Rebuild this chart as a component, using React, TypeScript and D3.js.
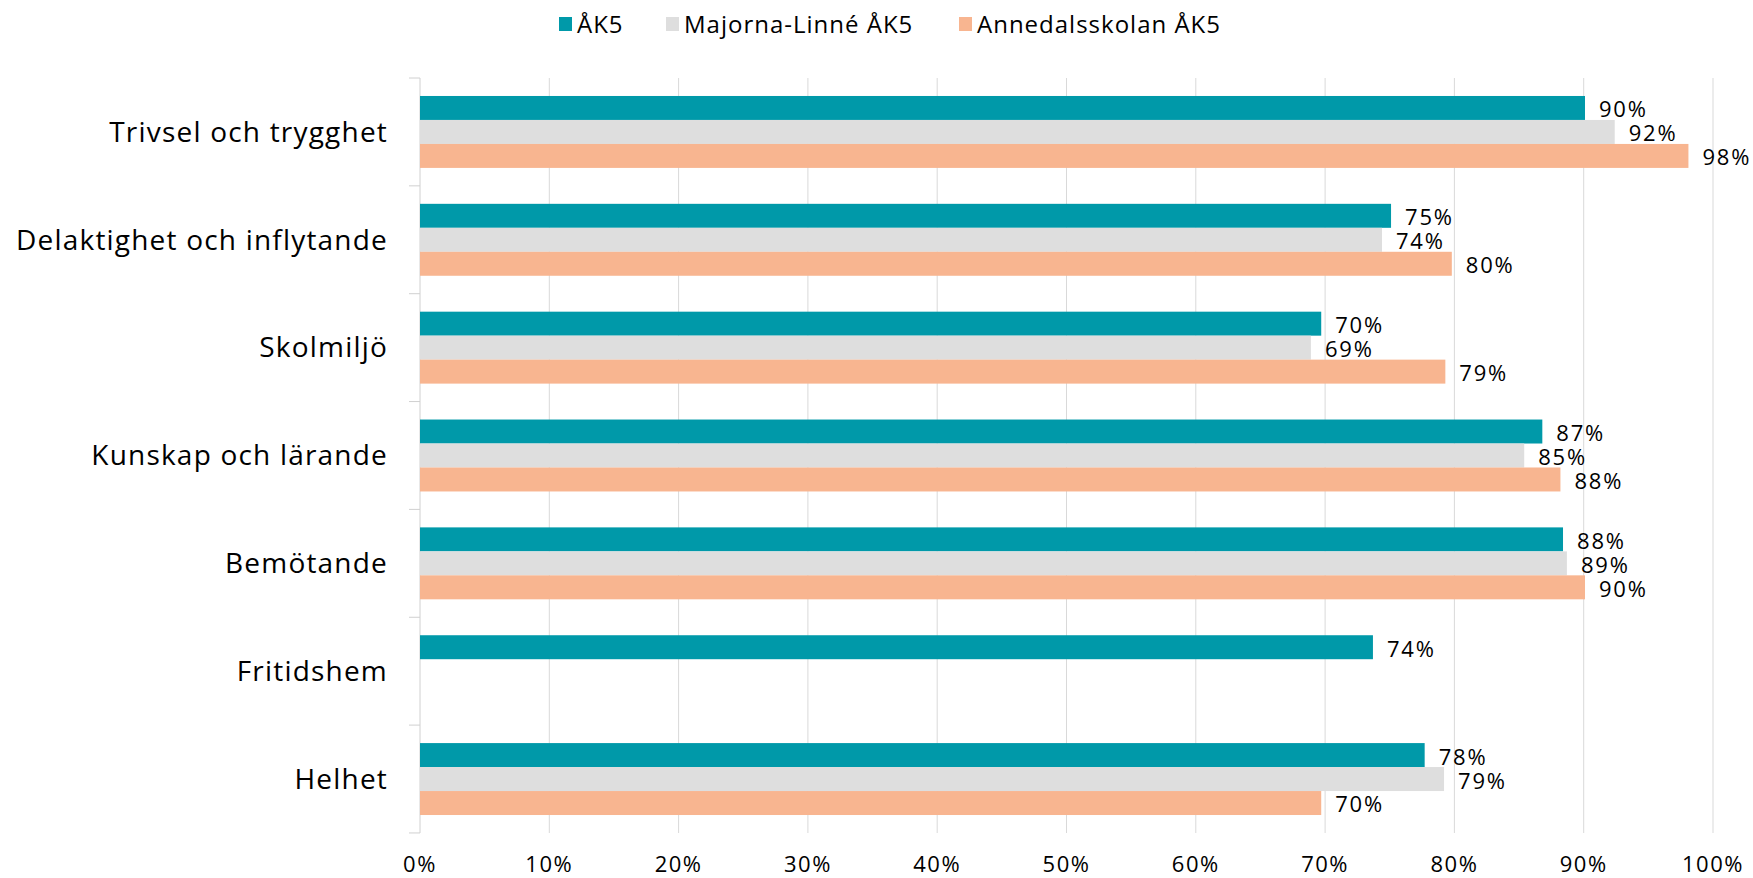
import React, { useEffect, useRef } from 'react';
import * as d3 from 'd3';

const categories = [
  'Trivsel och trygghet',
  'Delaktighet och inflytande',
  'Skolmiljö',
  'Kunskap och lärande',
  'Bemötande',
  'Fritidshem',
  'Helhet',
];

const seriesNames = ['ÅK5', 'Majorna-Linné ÅK5', 'Annedalsskolan ÅK5'];

// percent values per series, null = no bar
const ak5 = [90.1, 75.1, 69.7, 86.8, 88.4, 73.7, 77.7];
const majornaLinne = [92.4, 74.4, 68.9, 85.4, 88.7, null, 79.2];
const annedalsskolan = [98.1, 79.8, 79.3, 88.2, 90.1, null, 69.7];

const tickValues = [0, 10, 20, 30, 40, 50, 60, 70, 80, 90, 100];

const colors = ['#0099A9', '#DEDEDE', '#F8B590'];

const App: React.FC = () => {
  const svgRef = useRef<SVGSVGElement>(null);

  useEffect(() => {
    const svg = d3.select(svgRef.current);
    svg.selectAll('*').remove();

    const width = 1753;
    const height = 878;
    const margin = { top: 78, right: 40, bottom: 45, left: 420 };
    const font = '"Open Sans", sans-serif';
    const series = [ak5, majornaLinne, annedalsskolan];

    const x = d3.scaleLinear()
      .domain([0, 100])
      .range([margin.left, 1713]);

    const y = d3.scaleBand<string>()
      .domain(categories)
      .range([margin.top, height - margin.bottom])
      .paddingInner(0.333)
      .paddingOuter(0.1667);

    const ySub = d3.scaleBand<number>()
      .domain(d3.range(seriesNames.length))
      .range([0, y.bandwidth()]);

    const step = y.step();
    const top = margin.top;
    const bottom = height - margin.bottom;

    // gridlines
    svg.append('g')
      .selectAll('line')
      .data(tickValues.slice(1))
      .join('line')
      .attr('x1', d => x(d))
      .attr('x2', d => x(d))
      .attr('y1', top)
      .attr('y2', bottom)
      .attr('stroke', '#d9d9d9')
      .attr('stroke-width', 1);

    // left axis with category boundary ticks
    const axis = svg.append('g').attr('stroke', '#d0d0d0');
    axis.append('line')
      .attr('x1', x(0)).attr('x2', x(0))
      .attr('y1', top).attr('y2', bottom);
    axis.selectAll('line.tick')
      .data(d3.range(categories.length + 1))
      .join('line')
      .attr('class', 'tick')
      .attr('x1', x(0) - 11)
      .attr('x2', x(0))
      .attr('y1', i => top + i * step)
      .attr('y2', i => top + i * step);

    // bars
    series.forEach((vals, si) => {
      const g = svg.append('g');
      const rows = categories
        .map((c, i) => ({ c, v: vals[i] }))
        .filter(d => d.v !== null) as { c: string; v: number }[];

      g.selectAll('rect')
        .data(rows)
        .join('rect')
        .attr('x', x(0))
        .attr('y', d => (y(d.c) ?? 0) + (ySub(si) ?? 0))
        .attr('width', d => x(d.v) - x(0))
        .attr('height', ySub.bandwidth())
        .attr('fill', colors[si]);

      g.selectAll('text')
        .data(rows)
        .join('text')
        .attr('x', d => x(d.v) + 14)
        .attr('y', d => (y(d.c) ?? 0) + (ySub(si) ?? 0) + ySub.bandwidth() / 2)
        .attr('dy', '0.43em')
        .attr('font-family', font)
        .attr('font-size', 22)
        .attr('letter-spacing', 1.8)
        .attr('fill', '#000')
        .text(d => `${Math.round(d.v)}%`);
    });

    // category labels
    svg.append('g')
      .selectAll('text')
      .data(categories)
      .join('text')
      .attr('x', 388)
      .attr('y', d => (y(d) ?? 0) + y.bandwidth() / 2)
      .attr('dy', '0.35em')
      .attr('text-anchor', 'end')
      .attr('font-family', font)
      .attr('font-size', 28)
      .attr('letter-spacing', 1.2)
      .attr('fill', '#000')
      .text(d => d);

    // x tick labels
    svg.append('g')
      .selectAll('text')
      .data(tickValues)
      .join('text')
      .attr('x', d => x(d))
      .attr('y', 872)
      .attr('text-anchor', 'middle')
      .attr('font-family', font)
      .attr('font-size', 22)
      .attr('letter-spacing', 1.5)
      .attr('fill', '#000')
      .text(d => `${d}%`);

    // legend
    const legendX = [559, 666, 959];
    const legend = svg.append('g')
      .selectAll('g')
      .data(seriesNames)
      .join('g')
      .attr('transform', (_, i) => `translate(${legendX[i]},24)`);
    legend.append('rect')
      .attr('x', 0)
      .attr('y', -7)
      .attr('width', 13)
      .attr('height', 14)
      .attr('fill', (_, i) => colors[i]);
    legend.append('text')
      .attr('x', 18)
      .attr('y', 0)
      .attr('dy', '0.36em')
      .attr('font-family', font)
      .attr('font-size', 24)
      .attr('letter-spacing', 1)
      .attr('fill', '#000')
      .text(d => d);
  }, []);

  return (
    <svg
      ref={svgRef}
      width={1753}
      height={878}
      style={{ position: 'absolute', left: 0, top: 0, background: '#fff' }}
    />
  );
};

export default App;
